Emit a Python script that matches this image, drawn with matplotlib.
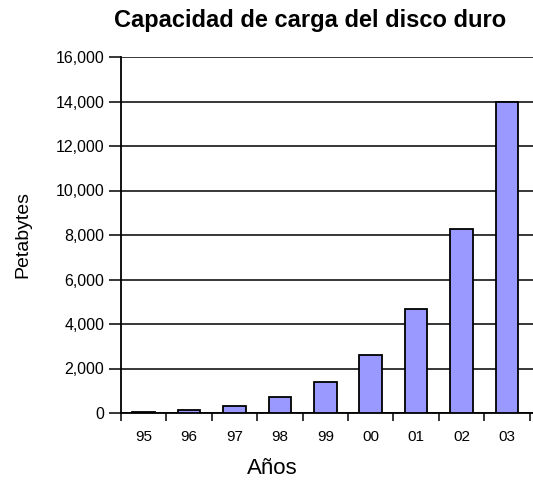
import numpy as np
import matplotlib.pyplot as plt

plt.rcParams['font.family'] = ['Liberation Sans', 'DejaVu Sans']

# data
years = ["95", "96", "97", "98", "99", "00", "01", "02", "03"]
petabytes = [60, 150, 330, 720, 1390, 2610, 4670, 8270, 14000]
y_ticks = [0, 2000, 4000, 6000, 8000, 10000, 12000, 14000, 16000]

W, H = 533, 484
fig = plt.figure(figsize=(W / 100, H / 100), dpi=100)
# plot area runs past the right edge, as in the cropped original
ax = fig.add_axes([121 / W, 71 / H, 454 / W, 356 / H])

x = np.arange(len(years))
ax.bar(x, petabytes, width=0.5, color="#9999ff", edgecolor="black",
       linewidth=1.3, zorder=3)

ax.set_xlim(-0.5, len(years) + 0.5)
ax.set_ylim(0, 16000)
ax.set_yticks(y_ticks)
ax.set_yticklabels([f"{v:,}" for v in y_ticks], fontsize=11.5)
ax.yaxis.grid(True, color="black", linewidth=1.1, zorder=1)
ax.tick_params(axis="y", length=9, width=1.1, pad=3)

# ticks between categories, labels in the middle
ax.set_xticks(np.arange(len(years) + 1) - 0.5)
ax.set_xticklabels([])
ax.set_xticks(x, minor=True)
ax.set_xticklabels(years, minor=True, fontsize=11)
ax.tick_params(axis="x", which="major", length=6, width=1.1)
ax.tick_params(axis="x", which="minor", length=0, pad=12)

for side in ["top", "right"]:
    ax.spines[side].set_visible(False)
ax.spines["left"].set_linewidth(1.3)
ax.spines["bottom"].set_linewidth(1.3)

fig.text(23 / W, 1 - 235 / H, "Petabytes", fontsize=14, rotation=90,
         ha="center", va="center")
fig.text(272 / W, 1 - 469 / H, "Años", fontsize=16, ha="center", va="center")
fig.text(310 / W, 1 - 21 / H, "Capacidad de carga del disco duro",
         fontsize=17, fontweight="bold", ha="center", va="center")

fig.savefig("out.png", dpi=100)
